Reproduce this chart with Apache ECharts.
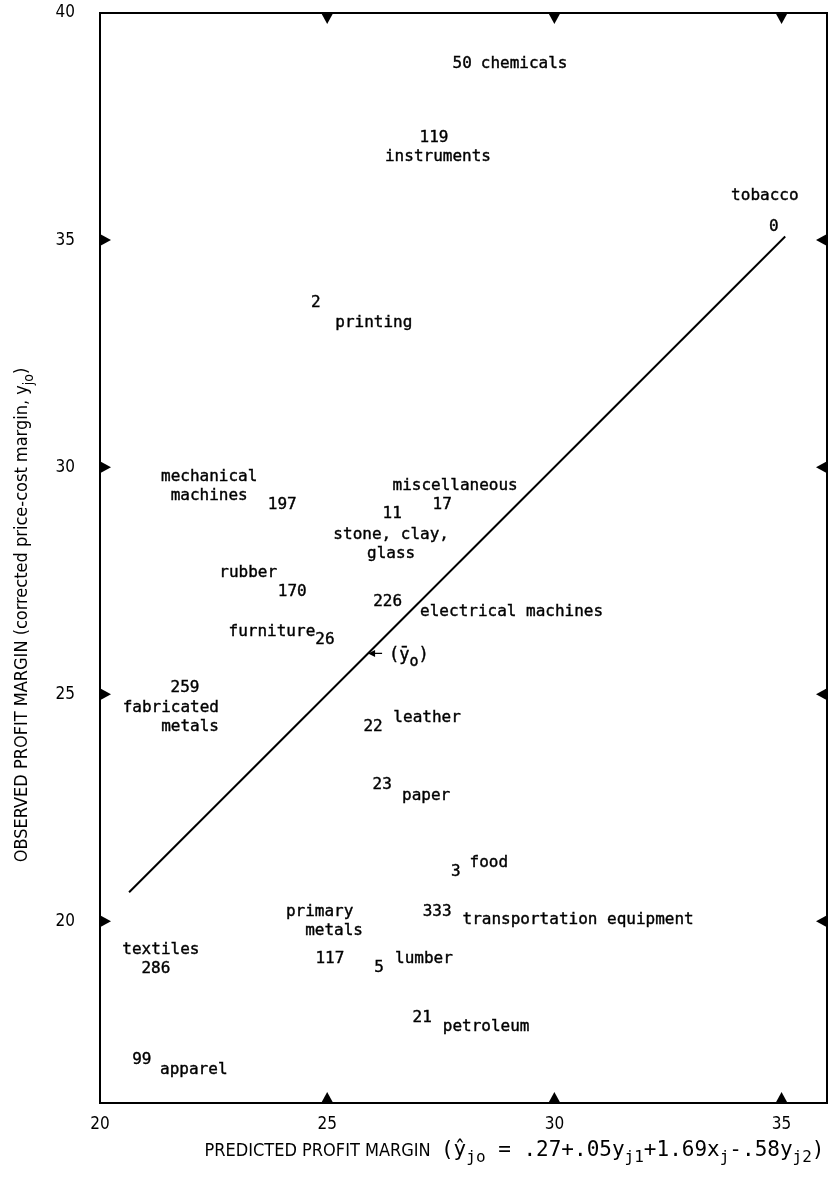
<!DOCTYPE html>
<html>
<head>
<meta charset="utf-8">
<script src="https://cdn.jsdelivr.net/npm/echarts@6/dist/echarts.min.js"></script>
<style>html,body{margin:0;padding:0;background:#fff}#c{width:829px;height:1179px}</style>
</head>
<body>
<div id="c"></div>
<script>
// ---- data ----
const industries = ['chemicals','instruments','tobacco','printing','mechanical\nmachines','miscellaneous','stone, clay,\nglass','rubber','electrical machines','furniture','fabricated\nmetals','leather','paper','food','transportation equipment','primary\n  metals','textiles','lumber','petroleum','apparel'];
const counts = [50,119,0,2,197,17,11,170,226,26,259,22,23,3,333,117,286,5,21,99];
const predicted = [27.97,27.35,34.83,24.75,24.01,27.53,26.43,24.23,26.33,24.95,21.87,26.01,26.21,27.83,27.42,25.06,21.23,26.14,27.09,20.92];
const observed  = [38.88,37.25,35.29,33.62,29.17,29.17,28.97,27.25,27.03,26.20,25.14,24.28,23.00,21.09,20.21,19.17,18.95,18.97,17.87,16.95];
const lineX = [20.64, 35.08];
const lineY = [20.64, 35.08];
const meanY = 25.9;
const xTickLabels = [20,25,30,35];
const yTickLabels = [20,25,30,35,40];
const xTickMarks = [25,30,35];
const yTickMarks = [20,25,30,35];
const xRange = [20,36];
const yRange = [16,40];

// ---- label layout (pixel offsets from each number) ----
const nameLayout = [
 [62,0,'center'],[4,19,'center'],[-9,-31,'center'],[58,20,'center'],[-73,-18.5,'center'],
 [13,-19,'center'],[-1,30,'center'],[-44,-19,'center'],[124,10,'center'],[-53,-8,'center'],
 [34,29.5,'right'],[54,-9,'center'],[44,11,'center'],[33,-9,'center'],[141,8,'center'],
 [-44,-37.5,'left'],[5,-19,'center'],[45,-9,'center'],[64,9,'center'],[52,10,'center']
];

const mono = "'DejaVu Sans Mono', 'Liberation Mono', monospace";
const narrow = "'Liberation Sans Narrow', 'DejaVu Sans Condensed', sans-serif";
const ink = '#000';
const txt = {color:ink, fontFamily:mono, fontSize:16, textBorderColor:ink, textBorderWidth:0.4};

const pts = predicted.map((x,i)=>[x, observed[i]]);

const tri = {
  down: 'path://M0,0 L12,0 L6,11 Z',
  up: 'path://M6,0 L12,11 L0,11 Z',
  right: 'path://M0,0 L11,6 L0,12 Z',
  left: 'path://M11,0 L0,6 L11,12 Z'
};
function tickSeries(data, sym, size, off){
  return {type:'scatter', data, symbol: sym, symbolSize: size, symbolOffset: off,
    itemStyle:{color:'#000', opacity:1}, silent:true, clip:false, z:5};
}

const chart = echarts.init(document.getElementById('c'), null, {renderer:'canvas'});
chart.setOption({
  backgroundColor:'#fff',
  animation:false,
  grid:{left:100, right:2, top:13, bottom:76, show:true, borderColor:'#000', borderWidth:2, backgroundColor:'transparent'},
  xAxis:{type:'value', min:xRange[0], max:xRange[1],
    axisLine:{show:false}, axisTick:{show:false}, splitLine:{show:false},
    axisLabel:{customValues:xTickLabels, margin:13, color:ink, fontFamily:narrow, fontSize:17},
    name:'{c|PREDICTED PROFIT MARGIN  }{b|(ŷ}{s|jo}{b| = .27+.05y}{s|j1}{b|+1.69x}{s|j}{b|-.58y}{s|j2}{b|)}',
    nameLocation:'middle', nameGap:33,
    nameTextStyle:{color:ink, fontFamily:narrow, fontSize:18, padding:[0,0,0,102],
      rich:{c:{fontFamily:narrow, fontSize:18, color:ink},
            b:{fontFamily:mono, fontSize:21, color:ink},
            s:{fontFamily:mono, fontSize:16, color:ink, padding:[14,0,0,0]}}}
  },
  yAxis:{type:'value', min:yRange[0], max:yRange[1],
    axisLine:{show:false}, axisTick:{show:false}, splitLine:{show:false},
    axisLabel:{customValues:yTickLabels, margin:25, color:ink, fontFamily:narrow, fontSize:17},
    name:'OBSERVED PROFIT MARGIN (corrected price-cost margin, {b|y}{s|jo}{b|)}',
    nameLocation:'middle', nameGap:64,
    nameTextStyle:{color:ink, fontFamily:narrow, fontSize:18, padding:[0,114,0,0],
      rich:{b:{fontFamily:narrow, fontSize:18, color:ink}, s:{fontFamily:narrow, fontSize:14, color:ink, padding:[14,0,0,0]}}}
  },
  series:[
    {type:'line', data: lineX.map((x,i)=>[x, lineY[i]]), symbol:'none',
      lineStyle:{color:'#000', width:2}, silent:true, z:3},
    {type:'scatter', name:'counts', data: pts, symbolSize:0, silent:true, z:4,
      itemStyle:{opacity:1},
      label:Object.assign({show:true, position:'inside',
        formatter:p=>String(counts[p.dataIndex])}, txt)},
    {type:'scatter', name:'industries', silent:true, z:4, symbolSize:0,
      itemStyle:{opacity:1},
      data: pts.map((p,i)=>({value:p, label:{offset:[nameLayout[i][0], nameLayout[i][1]], align:nameLayout[i][2]}})),
      label:Object.assign({show:true, position:'inside', lineHeight:19,
        formatter:p=>industries[p.dataIndex]}, txt)},
    {type:'scatter', name:'mean', silent:true, z:4,
      data:[[meanY, meanY]],
      symbol:'path://M0,4 L8,0 L8,3.2 L16,3.2 L16,4.8 L8,4.8 L8,8 Z', symbolSize:[14,7], symbolOffset:[7,0],
      itemStyle:{color:'#000', opacity:1},
      label:{show:true, position:'inside', align:'left', offset:[14,2], color:ink,
        formatter:'{a|(ȳ}{s|o}{a|)}',
        rich:{a:{fontFamily:mono, fontSize:17, color:ink, textBorderColor:ink, textBorderWidth:0.4},
              s:{fontFamily:mono, fontSize:15, color:ink, textBorderColor:ink, textBorderWidth:0.4, padding:[14,0,0,0]}}}},
    tickSeries(xTickMarks.map(v=>[v, yRange[1]]), tri.down, [12,11], [0,5.5]),
    tickSeries(xTickMarks.map(v=>[v, yRange[0]]), tri.up, [12,11], [0,-5.5]),
    tickSeries(yTickMarks.map(v=>[xRange[0], v]), tri.right, [11,12], [5.5,0]),
    tickSeries(yTickMarks.map(v=>[xRange[1], v]), tri.left, [11,12], [-5.5,0])
  ]
});
</script>
</body>
</html>
